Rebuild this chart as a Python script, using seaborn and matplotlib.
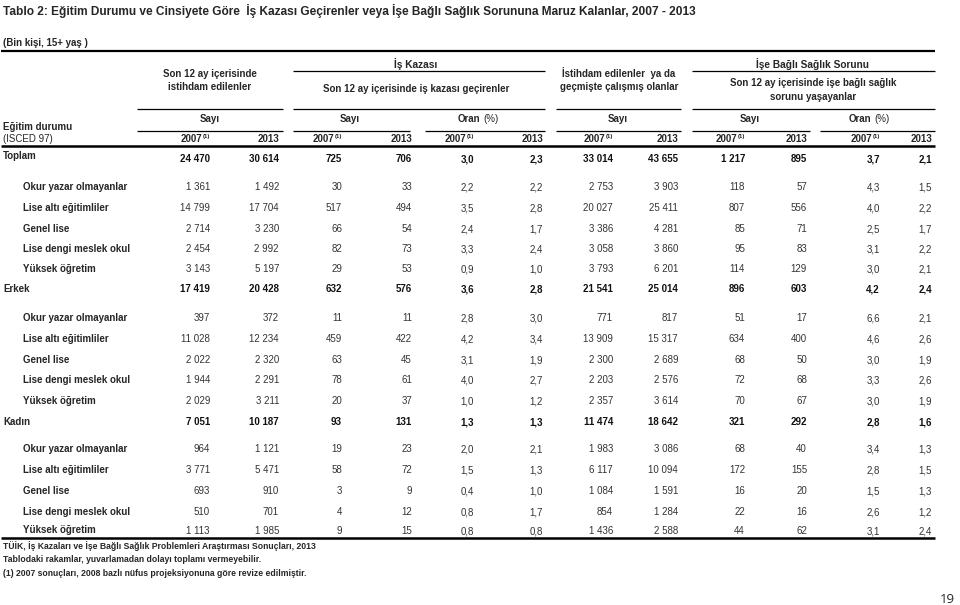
import matplotlib
matplotlib.use("Agg")
import matplotlib.pyplot as plt
import seaborn as sns

# ---------------- data ----------------
title = "Tablo 2: Eğitim Durumu ve Cinsiyete Göre  İş Kazası Geçirenler veya İşe Bağlı Sağlık Sorununa Maruz Kalanlar, 2007 - 2013"
unit = "(Bin kişi, 15+ yaş )"

row_labels = ["Toplam", "Okur yazar olmayanlar", "Lise altı eğitimliler", "Genel lise",
              "Lise dengi meslek okul", "Yüksek öğretim",
              "Erkek", "Okur yazar olmayanlar", "Lise altı eğitimliler", "Genel lise",
              "Lise dengi meslek okul", "Yüksek öğretim",
              "Kadın", "Okur yazar olmayanlar", "Lise altı eğitimliler", "Genel lise",
              "Lise dengi meslek okul", "Yüksek öğretim"]
row_is_total = [True, False, False, False, False, False,
                True, False, False, False, False, False,
                True, False, False, False, False, False]

year_labels = ["2007", "2013"]

istihdam_2007 = [24470, 1361, 14799, 2714, 2454, 3143, 17419, 397, 11028, 2022, 1944, 2029, 7051, 964, 3771, 693, 510, 1113]
istihdam_2013 = [30614, 1492, 17704, 3230, 2992, 5197, 20428, 372, 12234, 2320, 2291, 3211, 10187, 1121, 5471, 910, 701, 1985]
kaza_sayi_2007 = [725, 30, 517, 66, 82, 29, 632, 11, 459, 63, 78, 20, 93, 19, 58, 3, 4, 9]
kaza_sayi_2013 = [706, 33, 494, 54, 73, 53, 576, 11, 422, 45, 61, 37, 131, 23, 72, 9, 12, 15]
kaza_oran_2007 = [3.0, 2.2, 3.5, 2.4, 3.3, 0.9, 3.6, 2.8, 4.2, 3.1, 4.0, 1.0, 1.3, 2.0, 1.5, 0.4, 0.8, 0.8]
kaza_oran_2013 = [2.3, 2.2, 2.8, 1.7, 2.4, 1.0, 2.8, 3.0, 3.4, 1.9, 2.7, 1.2, 1.3, 2.1, 1.3, 1.0, 1.7, 0.8]
calismis_2007 = [33014, 2753, 20027, 3386, 3058, 3793, 21541, 771, 13909, 2300, 2203, 2357, 11474, 1983, 6117, 1084, 854, 1436]
calismis_2013 = [43655, 3903, 25411, 4281, 3860, 6201, 25014, 817, 15317, 2689, 2576, 3614, 18642, 3086, 10094, 1591, 1284, 2588]
saglik_sayi_2007 = [1217, 118, 807, 85, 95, 114, 896, 51, 634, 68, 72, 70, 321, 68, 172, 16, 22, 44]
saglik_sayi_2013 = [895, 57, 556, 71, 83, 129, 603, 17, 400, 50, 68, 67, 292, 40, 155, 20, 16, 62]
saglik_oran_2007 = [3.7, 4.3, 4.0, 2.5, 3.1, 3.0, 4.2, 6.6, 4.6, 3.0, 3.3, 3.0, 2.8, 3.4, 2.8, 1.5, 2.6, 3.1]
saglik_oran_2013 = [2.1, 1.5, 2.2, 1.7, 2.2, 2.1, 2.4, 2.1, 2.6, 1.9, 2.6, 1.9, 1.6, 1.3, 1.5, 1.3, 1.2, 2.4]

footnotes = ["TÜİK, İş Kazaları ve İşe Bağlı Sağlık Problemleri Araştırması Sonuçları, 2013",
             "Tablodaki rakamlar, yuvarlamadan dolayı toplamı vermeyebilir.",
             "(1) 2007 sonuçları, 2008 bazlı nüfus projeksiyonuna göre revize edilmiştir."]
page_no = "19"

columns = [istihdam_2007, istihdam_2013, kaza_sayi_2007, kaza_sayi_2013,
           kaza_oran_2007, kaza_oran_2013, calismis_2007, calismis_2013,
           saglik_sayi_2007, saglik_sayi_2013, saglik_oran_2007, saglik_oran_2013]
col_is_rate = [False, False, False, False, True, True, False, False, False, False, True, True]

# ---------------- layout ----------------
sns.set_theme(style="white")
plt.rcParams['font.family'] = ['Liberation Sans', 'DejaVu Sans']

fig = plt.figure(figsize=(9.6, 6.05), dpi=100)
ax = fig.add_axes([0, 0, 1, 1])
ax.set_xlim(0, 960)
ax.set_ylim(605, 0)
ax.axis("off")

FS = 7.0
K = "black"

def txt(x, y, s, **kw):
    # y is the visual centre of capital letters; place text on its baseline
    kw.setdefault("fontsize", FS)
    fs = kw["fontsize"]
    off = fs * 100 / 72 * 0.716 / 2
    return ax.text(x, y + off, s, va="baseline", **kw)

def fmt_int(v):
    return f"{v:,}".replace(",", " ")

def fmt_rate(v):
    return f"{v:.1f}".replace(".", ",")

def hline(y, x0, x1, lw=1.0):
    ax.plot([x0, x1], [y, y], color=K, lw=lw, solid_capstyle="butt")

txt(3, 11, title, fontsize=8.6, fontweight="bold", ha="left")
txt(3, 43, unit, fontsize=7.0, fontweight="bold", ha="left")
hline(51, 1, 935, lw=1.6)

# group headers
txt(210, 74, "Son 12 ay içerisinde", fontweight="bold", ha="center")
txt(210, 87, "istihdam edilenler", fontweight="bold", ha="center")
txt(416, 64, "İş Kazası", fontsize=FS + 0.3, fontweight="bold", ha="center")
hline(71, 293, 545, lw=0.9)
txt(416, 89, "Son 12 ay içerisinde iş kazası geçirenler", fontweight="bold", ha="center")
txt(619, 74, "İstihdam edilenler  ya da", fontweight="bold", ha="center")
txt(619, 87, "geçmişte çalışmış olanlar", fontweight="bold", ha="center")
txt(813, 64, "İşe Bağlı Sağlık Sorunu", fontsize=FS + 0.3, fontweight="bold", ha="center")
hline(71, 692, 935, lw=0.9)
txt(813, 83, "Son 12 ay içerisinde işe bağlı sağlık", fontweight="bold", ha="center")
txt(813, 97, "sorunu yaşayanlar", fontweight="bold", ha="center")

for x0, x1 in [(137, 283), (293, 545), (556, 681), (692, 935)]:
    hline(109, x0, x1, lw=0.9)

# sub headers
def sayi(xc):
    txt(xc, 119, "Sayı", fontweight="bold", ha="center")

def oran(xc):
    txt(xc - 10, 119, "Oran", fontweight="bold", ha="right")
    txt(xc - 7, 119, "(%)", ha="left")

sayi(210); sayi(350); oran(490); sayi(618); sayi(750); oran(881)
for x0, x1 in [(137, 283), (293, 410), (425, 545), (556, 681), (692, 810), (820, 935)]:
    hline(131, x0, x1, lw=0.9)

txt(3, 127, "Eğitim durumu", fontweight="bold", ha="left")
txt(3, 139, "(ISCED 97)", ha="left")

col_right = [210, 279, 342, 412, 474, 543, 613, 678, 745, 807, 880, 932]
for i, xr in enumerate(col_right):
    if i % 2 == 0:
        txt(xr, 135.5, "(1)", fontsize=4.3, fontweight="bold", ha="right")
        txt(xr - 8, 139, year_labels[0], fontweight="bold", ha="right")
    else:
        txt(xr, 139, year_labels[1], fontweight="bold", ha="right")
hline(146, 1, 935, lw=1.8)

# rows
row_y = [159, 187, 208, 229, 249, 269, 289, 318, 339, 360, 380, 401, 422, 449, 470, 491, 512, 531]
for r, (lab, tot, y) in enumerate(zip(row_labels, row_is_total, row_y)):
    lx = 3 if tot else 23
    ly = y - 3 if r == 0 else (y - 1 if r == len(row_y) - 1 else y)
    txt(lx, ly, lab, fontweight="bold", ha="left")
    for c, (vals, rate, xr) in enumerate(zip(columns, col_is_rate, col_right)):
        s = fmt_rate(vals[r]) if rate else fmt_int(vals[r])
        txt(xr, y, s, fontweight="bold" if tot else "normal",
            ha="right", color="#111111" if tot else "#333333")
hline(538, 1, 935, lw=1.8)

for t, y in zip(footnotes, [546, 559, 573]):
    txt(3, y, t, fontsize=6.2, fontweight="bold", ha="left")

txt(955, 598, page_no, fontsize=9.5, ha="right", family=["Open Sans", "DejaVu Sans"])

fig.savefig("out.png", dpi=100, facecolor="white")
